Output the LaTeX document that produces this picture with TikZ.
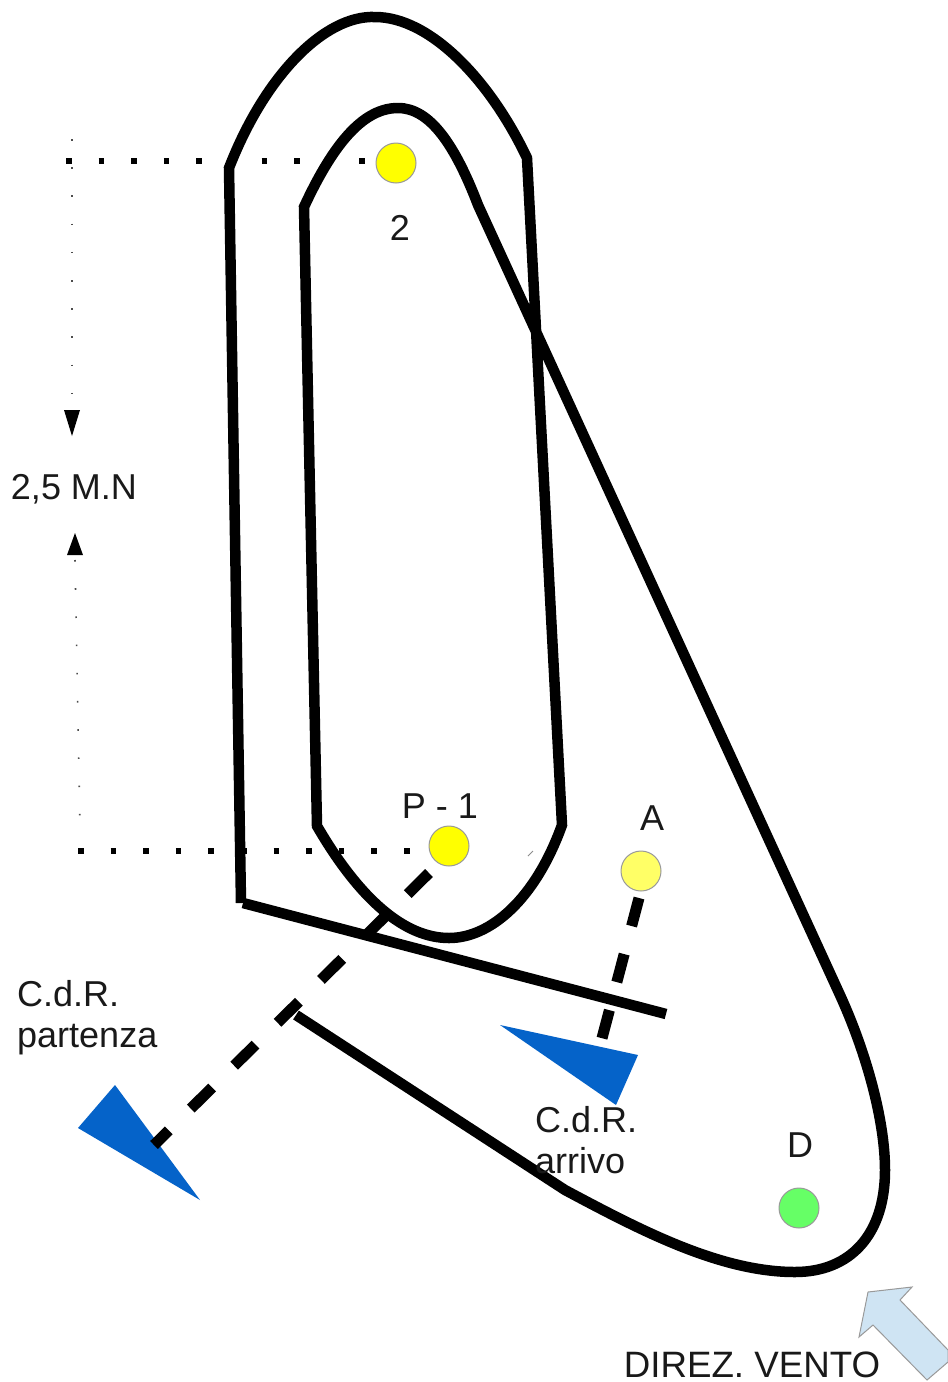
\documentclass[tikz,border=0pt]{standalone}
\usepackage{fontspec}
\setmainfont{Liberation Sans}
\tikzset{
  x=1pt,y=-1pt,
  course/.style={draw=black,line width=10.5pt,line join=miter},
  dashline/.style={draw=black,line width=11pt,dash pattern=on 30pt off 31pt},
  bigdots/.style={draw=black,line width=5.5pt,dash pattern=on 5.5pt off 27.1pt},
  smalldots/.style={draw=black!70,line width=1.6pt,dash pattern=on 1.6pt off 26.6pt},
  mark tip/.style={fill=black,draw=none},
  buoy/.style={circle,draw=black!40,line width=1pt,minimum size=40pt,inner sep=0pt},
  boat/.style={fill=cdrblue,draw=none},
  lab/.style={font=\fontsize{36}{36}\selectfont,text=black!90,inner sep=0pt},
}
\definecolor{cdrblue}{HTML}{0563C9}
\definecolor{windblue}{HTML}{CFE4F3}
\begin{document}
\begin{tikzpicture}
\useasboundingbox[fill=white] (0,0) rectangle (948,1382);
% dimension marks
\coordinate (t1) at (66,161); \coordinate (t2) at (372,161);
\coordinate (b1) at (78,851); \coordinate (b2) at (420,851);
\draw[bigdots] (t1) -- (t2);
\draw[bigdots] (b1) -- (b2);
\coordinate (v1) at (72,139); \coordinate (v2) at (72,410);
\coordinate (v3) at (75,560); \coordinate (v4) at (80,828);
\draw[smalldots] (v1) -- (v2);
\draw[smalldots] (v3) -- (v4);
\fill[mark tip] (64,410) -- (80,410) -- (72,436) -- cycle;
\fill[mark tip] (67,555) -- (83,555) -- (75,533) -- cycle;
% boats
\fill[boat] (115,1085) -- (78,1128) -- (200,1200) -- cycle;
\fill[boat] (500,1025) -- (638,1055) -- (616,1105) -- cycle;
% buoys
\node[buoy,fill={rgb,255:red,255;green,255;blue,0}] (n2) at (396,163) {};
\node[buoy,fill={rgb,255:red,255;green,255;blue,0}] (p1) at (449,846) {};
\node[buoy,fill={rgb,255:red,255;green,255;blue,102}] (a) at (641,871) {};
\node[buoy,fill={rgb,255:red,102;green,255;blue,102}] (d) at (799,1208) {};
% dashed lines
\coordinate (ds1) at (429,873); \coordinate (de1) at (154,1145);
\coordinate (ds2) at (639,898); \coordinate (de2) at (601,1042);
\draw[dashline] (ds1) -- (de1);
\draw[dashline,dash pattern=on 29pt off 29pt] (ds2) -- (de2);
% course
\draw[course] (241,903) -- (229,168)
  .. controls (265,75) and (325,15) .. (375,17)
  .. controls (430,17) and (490,80) .. (527,158)
  -- (562,825)
  .. controls (535,900) and (490,938) .. (449,938)
  .. controls (405,938) and (360,900) .. (317,826)
  -- (304,207)
  .. controls (335,140) and (365,108) .. (398,108)
  .. controls (430,108) and (455,145) .. (478,205)
  -- (840,995)
  .. controls (866,1052) and (885,1120) .. (885,1170)
  .. controls (885,1235) and (850,1272) .. (795,1272)
  .. controls (720,1272) and (640,1230) .. (565,1190)
  -- (296,1015);
\draw[course] (243,903) -- (666,1014);
\draw[black!45,line width=1pt] (528,856) -- (533,851);
% wind arrow
\filldraw[fill=windblue,draw=black!40,line width=1pt]
  (948,1350) -- (900,1300) -- (912,1287) -- (868,1292) -- (859,1337) -- (873,1325) -- (927,1380) -- (948,1362) -- cycle;
% labels
\node[lab] (l2) at (400,228) {2};
\node[lab] (lp) at (440,806) {P - 1};
\node[lab] (la) at (652,818) {A};
\node[lab] (ld) at (800,1145) {D};
\node[lab,anchor=base west] (lc1) at (17,1006) {C.d.R.};
\node[lab,anchor=base west] (lc2) at (17,1047) {partenza};
\node[lab,anchor=base west] (lc3) at (535,1132) {C.d.R.};
\node[lab,anchor=base west] (lc4) at (535,1173) {arrivo};
\node[lab] (lm) at (74,489) {2,5 M.N};
\node[lab,anchor=base,font=\fontsize{36.7}{36.7}\selectfont] (lv) at (752,1377) {DIREZ. VENTO};
\end{tikzpicture}
\end{document}
